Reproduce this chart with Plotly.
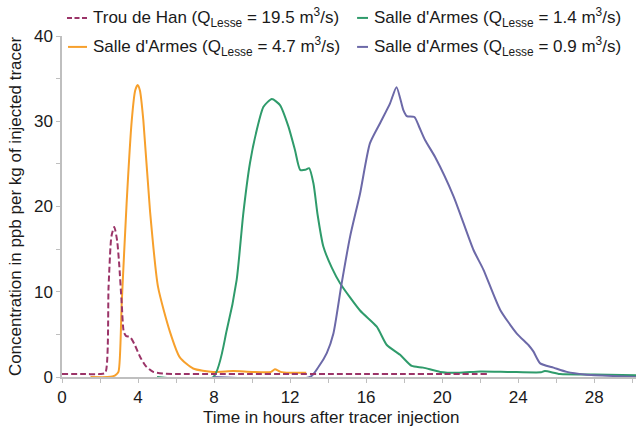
import plotly.graph_objects as go

# ---- data ----
trou_x = [0, 1.0, 2.0, 2.28, 2.45, 2.6, 2.75, 2.9, 3.0, 3.14, 3.25, 3.38, 3.58, 3.8, 4.1, 4.4, 4.8, 5.3, 6, 8, 10, 12, 14, 16, 18, 20, 22.4]
trou_y = [0.35, 0.35, 0.35, 0.5, 10.6, 16.5, 17.6, 16.0, 13.5, 8.7, 5.3, 4.8, 4.7, 3.9, 2.4, 1.3, 0.6, 0.4, 0.35, 0.35, 0.35, 0.35, 0.35, 0.35, 0.35, 0.35, 0.35]

sa47_x = [1.5, 2.4, 2.8, 2.97, 3.14, 3.4, 3.67, 3.85, 3.98, 4.1, 4.28, 4.63, 5.05, 5.68, 6.2, 6.9, 7.95, 9, 10, 11, 11.2, 11.5, 12, 12.85]
sa47_y = [0, 0, 0.2, 0.6, 8.6, 20.4, 30.1, 33.6, 34.25, 33.6, 30.1, 19.5, 10.6, 5.3, 2.3, 1.0, 0.6, 0.7, 0.6, 0.6, 0.9, 0.6, 0.5, 0.5]

sa14_x = [5, 7.96, 8.67, 9.19, 9.54, 9.89, 10.25, 10.6, 11.04, 11.47, 11.91, 12.26, 12.53, 12.8, 13.0, 13.23, 13.45, 13.75, 14.2, 14.63, 15.68, 16.56, 17.09, 17.79, 18.4, 19.0, 19.9, 20.9, 22, 23.5, 25.2, 25.4, 26.2, 28, 30.2]
sa14_y = [0, 0, 5.5, 11.4, 19.2, 25.1, 29.0, 31.7, 32.6, 31.9, 29.4, 26.6, 24.3, 24.3, 24.5, 22.7, 19.0, 15.3, 12.8, 11.0, 7.8, 5.9, 3.75, 2.6, 1.3, 1.1, 0.6, 0.5, 0.65, 0.6, 0.55, 0.7, 0.35, 0.3, 0.2]

sa09_x = [8, 13.05, 13.5, 13.93, 14.28, 14.7, 15.16, 15.68, 16.2, 16.74, 17.26, 17.6, 17.96, 18.14, 18.54, 18.8, 19.1, 19.63, 20.6, 21.65, 22.17, 23.05, 23.93, 24.54, 24.8, 25.16, 25.86, 26.56, 27.5, 30.2]
sa09_y = [0, 0, 1.2, 2.8, 5.1, 10.8, 16.5, 21.5, 27.4, 29.8, 32.1, 34.0, 31.3, 30.6, 30.5, 29.3, 27.8, 25.8, 21.2, 14.9, 12.6, 7.9, 5.1, 3.75, 3.0, 1.6, 1.1, 0.6, 0.3, 0]

names = [
    "Trou de Han (Q<sub>Lesse</sub> = 19.5 m<sup>3</sup>/s)",
    "Salle d'Armes (Q<sub>Lesse</sub> = 4.7 m<sup>3</sup>/s)",
    "Salle d'Armes (Q<sub>Lesse</sub> = 1.4 m<sup>3</sup>/s)",
    "Salle d'Armes (Q<sub>Lesse</sub> = 0.9 m<sup>3</sup>/s)",
]
colors = ["#9b3468", "#f7a02c", "#2f9b6b", "#6c69a8"]
x_title = "Time in hours after tracer injection"
y_title = "Concentration in ppb per kg of injected tracer"

series = [(trou_x, trou_y), (sa47_x, sa47_y), (sa14_x, sa14_y), (sa09_x, sa09_y)]
dashes = ["6px,3px", "solid", "solid", "solid"]

fig = go.Figure()
for i in [1, 2, 3, 0]:
    xs, ys = series[i]
    fig.add_trace(go.Scatter(
        x=xs, y=ys, mode="lines", name=names[i], showlegend=False,
        line=dict(color=colors[i], width=2, shape="spline", smoothing=0.6, dash=dashes[i]),
    ))

# ---- legend drawn as key lines + text (2 x 2 layout, paper coords) ----
# (symbol x0, symbol x1, text x, y) for each series, in paper units of the plot area
legend_slots = [
    (0.0087, 0.0436, 0.0505, 1.053),   # Trou de Han     row 1, col 1
    (0.0105, 0.0436, 0.0505, 0.968),   # Salle 4.7       row 2, col 1
    (0.5141, 0.5331, 0.5401, 1.053),   # Salle 1.4       row 1, col 2
    (0.5141, 0.5331, 0.5401, 0.968),   # Salle 0.9       row 2, col 2
]
shapes = []
annotations = []
for i, (sx0, sx1, tx, ty) in enumerate(legend_slots):
    shapes.append(dict(type="line", xref="paper", yref="paper", x0=sx0, x1=sx1, y0=ty, y1=ty,
                       line=dict(color=colors[i], width=2,
                                 dash="5px,2.5px" if i == 0 else "solid")))
    annotations.append(dict(text=names[i], xref="paper", yref="paper", x=tx, y=ty,
                            xanchor="left", yanchor="middle", showarrow=False,
                            font=dict(size=17)))
annotations.append(dict(text=x_title, xref="paper", yref="paper", x=0.469, y=-0.118,
                        xanchor="center", yanchor="middle", showarrow=False,
                        font=dict(size=17)))

axis_col = "#bfbfbf"
fig.update_layout(
    width=636, height=427,
    margin=dict(l=62, r=0, t=36, b=50),
    paper_bgcolor="white", plot_bgcolor="white",
    font=dict(family="Liberation Sans, Arial, sans-serif", size=17, color="#1a1a1a"),
    showlegend=False,
    xaxis=dict(range=[0, 30.2], tickmode="linear", tick0=0, dtick=4,
               showgrid=False, zeroline=False, showline=True, linecolor=axis_col, linewidth=1.5,
               ticks="outside", ticklen=4, tickcolor=axis_col, tickfont=dict(size=17),
               minor=dict(dtick=2, ticks="outside", ticklen=4, tickcolor=axis_col)),
    yaxis=dict(range=[0, 40], tickmode="linear", tick0=0, dtick=10,
               showgrid=False, zeroline=False, showline=True, linecolor=axis_col, linewidth=1.5,
               ticks="outside", ticklen=4, tickcolor=axis_col, tickfont=dict(size=17),
               minor=dict(dtick=5, ticks="outside", ticklen=4, tickcolor=axis_col),
               title=dict(text=y_title, standoff=8, font=dict(size=17))),
    shapes=shapes,
    annotations=annotations,
)

fig.write_html("out.html")
